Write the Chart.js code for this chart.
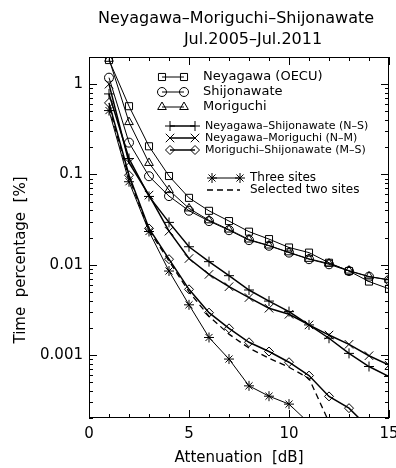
<!DOCTYPE html>
<html>
<head>
<meta charset="utf-8">
<script src="https://cdn.jsdelivr.net/npm/chart.js@4/dist/chart.umd.min.js"></script>
<style>
  html, body { margin: 0; padding: 0; background: #fff; }
  #wrap { width: 396px; height: 468px; }
</style>
</head>
<body>
<div id="wrap"><canvas id="myChart" width="396" height="468"></canvas></div>
<script>
// Attenuation [dB] on the x axis
const attenuation = [1, 2, 3, 4, 5, 6, 7, 8, 9, 10, 11, 12, 13, 14, 15];

// Time percentage [%] for each curve
const neyagawa = [1.85, 0.57, 0.205, 0.096, 0.055, 0.0395, 0.0304, 0.0232, 0.0192, 0.0155, 0.0136, 0.0105, 0.0085, 0.0065, 0.0054];
const shijonawate = [1.18, 0.225, 0.0955, 0.0575, 0.0396, 0.0304, 0.0241, 0.0187, 0.0162, 0.0136, 0.0115, 0.0101, 0.0085, 0.00736, 0.00676];
const moriguchi = [1.91, 0.38, 0.134, 0.067, 0.042, 0.031, 0.0245, 0.019, 0.0163, 0.0137, 0.0116, 0.0103, 0.0086, 0.0074, 0.0068];
const neyShi = [0.78, 0.15, 0.057, 0.0294, 0.0158, 0.0108, 0.00755, 0.00524, 0.00395, 0.00302, 0.00215, 0.00153, 0.00104, 0.000744, 0.000577];
const neyMori = [1.0, 0.135, 0.059, 0.0235, 0.0117, 0.0078, 0.0057, 0.00432, 0.00329, 0.00282, 0.00215, 0.00166, 0.00131, 0.00098, 0.00077];
const moriShi = [0.62, 0.098, 0.0252, 0.0115, 0.00533, 0.00294, 0.00197, 0.00138, 0.00109, 0.00083, 0.00059, 0.000347, 0.000257, 0.000155, null];
const threeSites = [0.51, 0.083, 0.0233, 0.0085, 0.00359, 0.00156, 0.0009, 0.000454, 0.000349, 0.000285, 0.000176, null, null, null, null];
const twoSites = [0.56, 0.092, 0.024, 0.011, 0.005, 0.00268, 0.0017, 0.00119, 0.00092, 0.00073, 0.00055, 0.00018, null, null, null];

// Axis ticks
const xTickValues = [0, 5, 10, 15];
const yTickValues = [0.001, 0.01, 0.1, 1];
const yTickLabels = ["0.001", "0.01", "0.1", "1"];

const FONT = "'DejaVu Sans', sans-serif";

function toPoints(values) {
    return attenuation.map((a, i) => ({ x: a, y: values[i] }));
}

function series(label, values, style, radius, width, dash) {
    return {
        label,
        data: toPoints(values),
        borderColor: "#000",
        borderWidth: width,
        borderDash: dash || [],
        pointStyle: style || false,
        pointRadius: style ? radius : 0,
        pointBorderColor: "#000",
        pointBackgroundColor: "rgba(0,0,0,0)",
        pointBorderWidth: 1,
        tension: 0,
        fill: false,
        spanGaps: false
    };
}

const datasets = [
    series("Neyagawa (OECU)", neyagawa, "rect", 5, 1),
    series("Shijonawate", shijonawate, "circle", 4.5, 1),
    series("Moriguchi", moriguchi, "triangle", 5, 1),
    series("Neyagawa\u2013Shijonawate (N\u2013S)", neyShi, "cross", 5, 1.5),
    series("Neyagawa\u2013Moriguchi (N\u2013M)", neyMori, "crossRot", 6, 1.5),
    series("Moriguchi\u2013Shijonawate (M\u2013S)", moriShi, "rectRot", 4.5, 1.5),
    series("Three sites", threeSites, "star", 5, 1),
    series("Selected two sites", twoSites, null, 0, 1.3, [6, 4])
];

// legend rows: dataset index, sample line ends, y, text x, font size
const legendRows = [
    { ds: 0, x1: 162, x2: 184, y: 77, tx: 203, size: 13 },
    { ds: 1, x1: 162, x2: 184, y: 92, tx: 203, size: 13 },
    { ds: 2, x1: 162, x2: 184, y: 107, tx: 203, size: 13 },
    { ds: 3, x1: 170, x2: 195, y: 126, tx: 205, size: 11 },
    { ds: 4, x1: 170, x2: 195, y: 138, tx: 205, size: 11 },
    { ds: 5, x1: 170, x2: 195, y: 150, tx: 205, size: 11 },
    { ds: 6, x1: 212, x2: 240, y: 178, tx: 250, size: 12 },
    { ds: 7, x1: 207, x2: 240, y: 190, tx: 250, size: 12 }
];

const decorPlugin = {
    id: "decor",
    afterDraw(chart) {
        const ctx = chart.ctx;
        const area = chart.chartArea;
        const xs = chart.scales.x;
        const ys = chart.scales.y;

        ctx.save();
        ctx.strokeStyle = "#000";
        ctx.lineWidth = 1;
        ctx.setLineDash([]);

        // frame
        ctx.strokeRect(area.left + 0.5, area.top + 0.5, area.right - area.left - 1, area.bottom - area.top - 1);

        // inward ticks on x (bottom + top)
        ctx.beginPath();
        for (let v = 0; v <= 15; v++) {
            const px = Math.round(xs.getPixelForValue(v)) + 0.5;
            const len = v % 5 === 0 ? 8 : 4;
            ctx.moveTo(px, area.bottom);
            ctx.lineTo(px, area.bottom - len);
            ctx.moveTo(px, area.top);
            ctx.lineTo(px, area.top + len);
        }

        // inward ticks on y (left + right)
        for (let d = -4; d <= 0; d++) {
            for (let m = 1; m <= 9; m++) {
                const v = m * Math.pow(10, d);
                if (v < ys.min || v > ys.max) continue;
                const py = Math.round(ys.getPixelForValue(v)) + 0.5;
                const len = m === 1 ? 8 : 4;
                ctx.moveTo(area.left, py);
                ctx.lineTo(area.left + len, py);
                ctx.moveTo(area.right, py);
                ctx.lineTo(area.right - len, py);
            }
        }
        ctx.stroke();

        // titles
        ctx.fillStyle = "#000";
        ctx.textBaseline = "alphabetic";
        ctx.textAlign = "center";
        ctx.font = "16px " + FONT;
        ctx.fillText("Neyagawa\u2013Moriguchi\u2013Shijonawate", 236, 23);
        ctx.fillText("Jul.2005\u2013Jul.2011", 253, 44);

        ctx.font = "15px " + FONT;
        ctx.fillText("Attenuation  [dB]", (area.left + area.right) / 2, 462);

        ctx.save();
        ctx.translate(25, 260);
        ctx.rotate(-Math.PI / 2);
        ctx.fillText("Time  percentage  [%]", 0, 0);
        ctx.restore();

        // legend
        ctx.textAlign = "left";
        ctx.textBaseline = "middle";
        legendRows.forEach(row => {
            const ds = chart.data.datasets[row.ds];
            ctx.lineWidth = ds.borderWidth;
            ctx.setLineDash(ds.borderDash);
            ctx.beginPath();
            ctx.moveTo(row.x1, row.y);
            ctx.lineTo(row.x2, row.y);
            ctx.stroke();
            ctx.setLineDash([]);
            if (ds.pointStyle) {
                const opts = { pointStyle: ds.pointStyle, radius: ds.pointRadius, borderWidth: 1, rotation: 0 };
                ctx.lineWidth = 1;
                ctx.fillStyle = "rgba(0,0,0,0)";
                Chart.helpers.drawPoint(ctx, opts, row.x1, row.y);
                Chart.helpers.drawPoint(ctx, opts, row.x2, row.y);
            }
            ctx.fillStyle = "#000";
            ctx.font = row.size + "px " + FONT;
            ctx.fillText(ds.label, row.tx, row.y);
        });

        ctx.restore();
    }
};

Chart.defaults.font.family = FONT;
Chart.defaults.color = "#000";

const myChart = new Chart(document.getElementById("myChart").getContext("2d"), {
    type: "line",
    data: { datasets },
    options: {
        responsive: false,
        animation: false,
        devicePixelRatio: 1,
        layout: { padding: { top: 57, right: 7, left: 0, bottom: 0 } },
        plugins: {
            legend: { display: false },
            title: { display: false },
            tooltip: { enabled: false }
        },
        scales: {
            x: {
                type: "linear",
                min: 0,
                max: 15,
                afterBuildTicks: s => { s.ticks = xTickValues.map(v => ({ value: v })); },
                afterFit: s => {
                    s.height = 50;
                    s.paddingLeft = 0;
                    s.paddingRight = 0;
                },
                grid: { display: false, drawTicks: false },
                border: { display: false },
                ticks: { font: { size: 15 }, padding: 7, maxRotation: 0, autoSkip: false }
            },
            y: {
                type: "logarithmic",
                min: 0.0002,
                max: 2,
                afterBuildTicks: s => { s.ticks = yTickValues.map(v => ({ value: v })); },
                afterFit: s => {
                    s.width = 89;
                    s.paddingTop = 0;
                    s.paddingBottom = 0;
                },
                grid: { display: false, drawTicks: false },
                border: { display: false },
                ticks: {
                    font: { size: 15 },
                    padding: 6,
                    autoSkip: false,
                    callback: v => yTickLabels[yTickValues.indexOf(v)] ?? ""
                }
            }
        }
    },
    plugins: [decorPlugin]
});
</script>
</body>
</html>
